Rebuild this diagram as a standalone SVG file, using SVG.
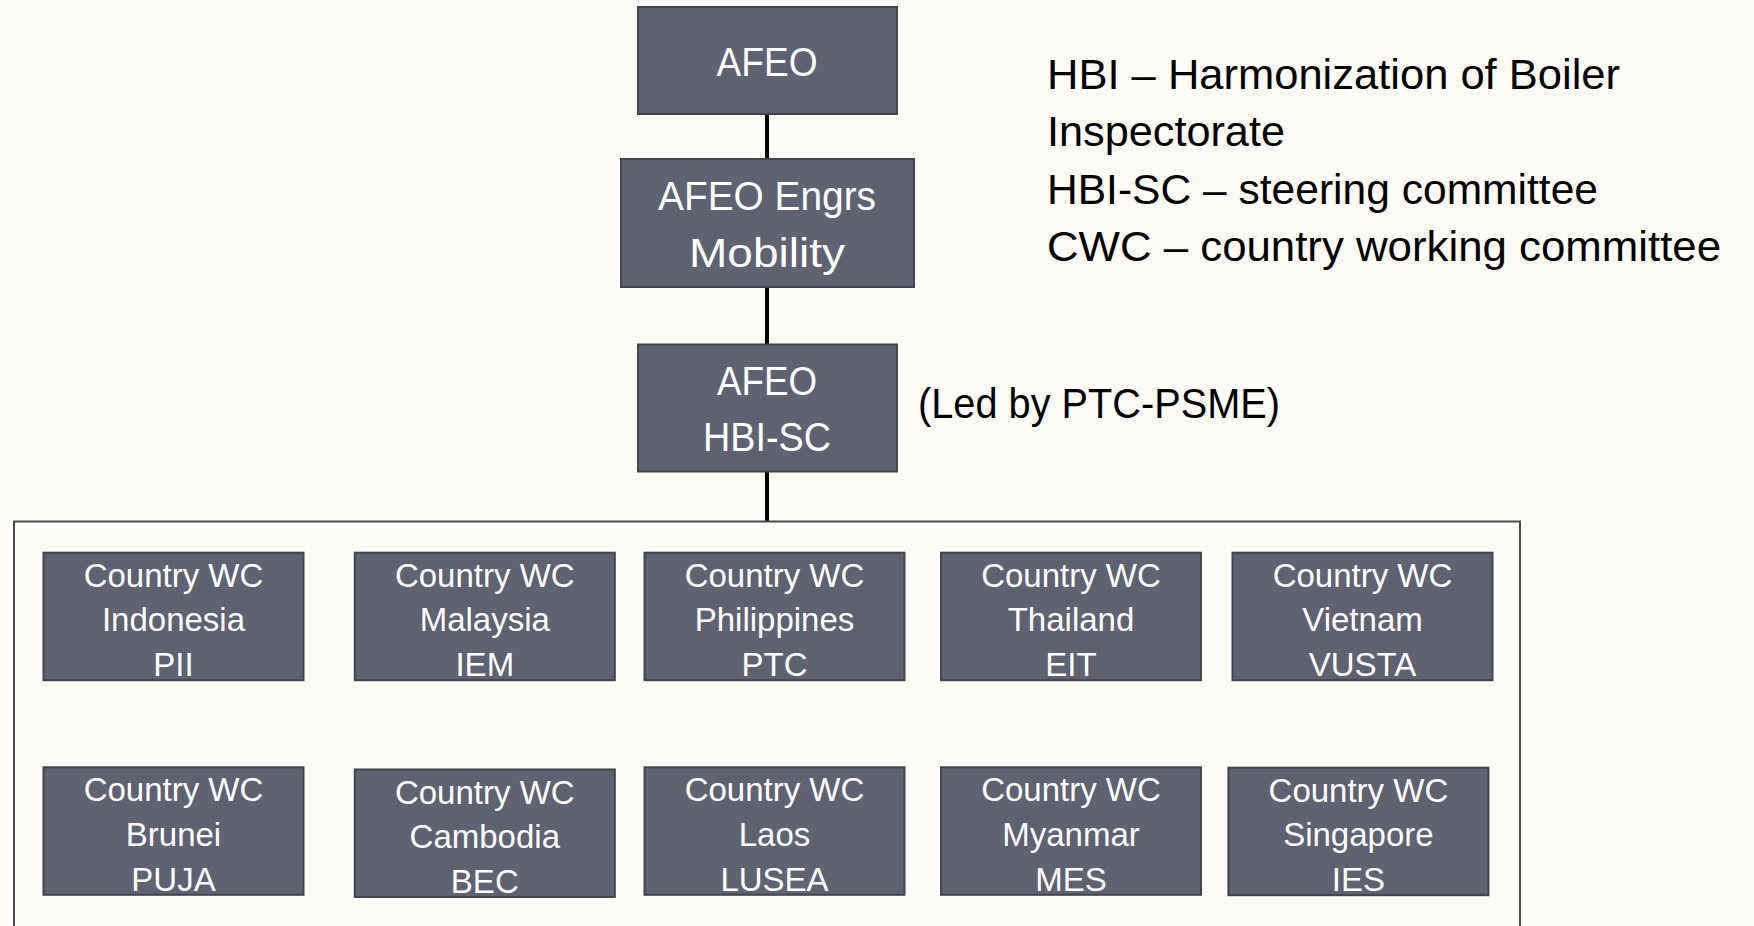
<svg xmlns="http://www.w3.org/2000/svg" width="1754" height="926" viewBox="0 0 1754 926">
<style>
.bg{fill:#fcfbf6}
.box{fill:#5f6271;stroke:#41444f;stroke-width:2}
.frame{fill:none;stroke:#474b57;stroke-width:2}
.conn{stroke:#000;stroke-width:4;fill:none}
.t{font-family:"Liberation Sans",Arial,sans-serif;fill:#fff;text-anchor:middle}
.big{font-size:41px}
.cw{font-size:33px}
.leg{font-family:"Liberation Sans",Arial,sans-serif;font-size:42px;fill:#000}
</style>
<rect class="bg" x="0" y="0" width="1754" height="926"/>
<g id="connectors">
<line class="conn" x1="767" y1="113" x2="767" y2="160"/>
<line class="conn" x1="767" y1="286" x2="767" y2="345"/>
<line class="conn" x1="767" y1="471" x2="767" y2="522"/>
</g>
<g id="container">
<rect class="frame" x="14" y="521.5" width="1506" height="430"/>
</g>
<g id="afeo">
<rect class="box" x="638" y="7" width="259" height="107"/>
<text class="t big" x="767" y="76" textLength="101" lengthAdjust="spacingAndGlyphs">AFEO</text>
</g>
<g id="mobility">
<rect class="box" x="621" y="159" width="293" height="128"/>
<text class="t big" x="767" y="210" textLength="218" lengthAdjust="spacingAndGlyphs">AFEO Engrs</text>
<text class="t big" x="767" y="267" textLength="156" lengthAdjust="spacingAndGlyphs">Mobility</text>
</g>
<g id="hbisc">
<rect class="box" x="638" y="344.5" width="259" height="127"/>
<text class="t big" x="767" y="394.5" textLength="100" lengthAdjust="spacingAndGlyphs">AFEO</text>
<text class="t big" x="767" y="451" textLength="128" lengthAdjust="spacingAndGlyphs">HBI-SC</text>
</g>
<g id="led-by">
<text class="leg" x="918" y="418" textLength="362" lengthAdjust="spacingAndGlyphs">(Led by PTC-PSME)</text>
</g>
<g id="legend">
<text class="leg" x="1047" y="88.5" textLength="573" lengthAdjust="spacingAndGlyphs">HBI – Harmonization of Boiler</text>
<text class="leg" x="1047" y="146" textLength="238" lengthAdjust="spacingAndGlyphs">Inspectorate</text>
<text class="leg" x="1047" y="204" textLength="551" lengthAdjust="spacingAndGlyphs">HBI-SC – steering committee</text>
<text class="leg" x="1047" y="261" textLength="674" lengthAdjust="spacingAndGlyphs">CWC – country working committee</text>
</g>
<g id="cwc-indonesia">
<rect class="box" x="43.5" y="552.7" width="260" height="127.5"/>
<text class="t cw" x="173.5" y="586.7">Country WC</text>
<text class="t cw" x="173.5" y="631">Indonesia</text>
<text class="t cw" x="173.5" y="676.3">PII</text>
</g>
<g id="cwc-malaysia">
<rect class="box" x="354.8" y="552.7" width="260" height="127.5"/>
<text class="t cw" x="484.8" y="586.7">Country WC</text>
<text class="t cw" x="484.8" y="631">Malaysia</text>
<text class="t cw" x="484.8" y="676.3">IEM</text>
</g>
<g id="cwc-philippines">
<rect class="box" x="644.5" y="552.7" width="260" height="127.5"/>
<text class="t cw" x="774.5" y="586.7">Country WC</text>
<text class="t cw" x="774.5" y="631">Philippines</text>
<text class="t cw" x="774.5" y="676.3">PTC</text>
</g>
<g id="cwc-thailand">
<rect class="box" x="941" y="552.7" width="260" height="127.5"/>
<text class="t cw" x="1071" y="586.7">Country WC</text>
<text class="t cw" x="1071" y="631">Thailand</text>
<text class="t cw" x="1071" y="676.3">EIT</text>
</g>
<g id="cwc-vietnam">
<rect class="box" x="1232.5" y="552.7" width="260" height="127.5"/>
<text class="t cw" x="1362.5" y="586.7">Country WC</text>
<text class="t cw" x="1362.5" y="631">Vietnam</text>
<text class="t cw" x="1362.5" y="676.3">VUSTA</text>
</g>
<g id="cwc-brunei">
<rect class="box" x="43.5" y="767.3" width="260" height="127.5"/>
<text class="t cw" x="173.5" y="801.3">Country WC</text>
<text class="t cw" x="173.5" y="845.6">Brunei</text>
<text class="t cw" x="173.5" y="890.9">PUJA</text>
</g>
<g id="cwc-cambodia">
<rect class="box" x="354.8" y="769.5" width="260" height="127.5"/>
<text class="t cw" x="484.8" y="803.5">Country WC</text>
<text class="t cw" x="484.8" y="847.8">Cambodia</text>
<text class="t cw" x="484.8" y="893.1">BEC</text>
</g>
<g id="cwc-laos">
<rect class="box" x="644.5" y="767.3" width="260" height="127.5"/>
<text class="t cw" x="774.5" y="801.3">Country WC</text>
<text class="t cw" x="774.5" y="845.6">Laos</text>
<text class="t cw" x="774.5" y="890.9">LUSEA</text>
</g>
<g id="cwc-myanmar">
<rect class="box" x="941" y="767.3" width="260" height="127.5"/>
<text class="t cw" x="1071" y="801.3">Country WC</text>
<text class="t cw" x="1071" y="845.6">Myanmar</text>
<text class="t cw" x="1071" y="890.9">MES</text>
</g>
<g id="cwc-singapore">
<rect class="box" x="1228.4" y="767.7" width="260" height="127.5"/>
<text class="t cw" x="1358.4" y="801.7">Country WC</text>
<text class="t cw" x="1358.4" y="846">Singapore</text>
<text class="t cw" x="1358.4" y="891.3">IES</text>
</g>
</svg>
